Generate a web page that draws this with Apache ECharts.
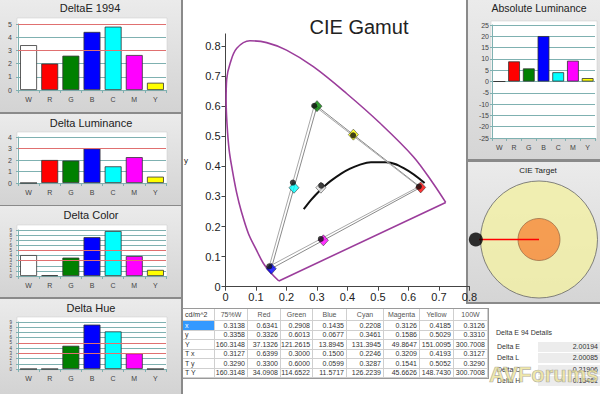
<!DOCTYPE html>
<html><head><meta charset="utf-8">
<script src="https://cdn.jsdelivr.net/npm/echarts/dist/echarts.min.js"></script>
<style>
html,body{margin:0;padding:0;background:#fff;width:600px;height:394px;overflow:hidden;}
#c{position:absolute;left:0;top:0;width:600px;height:394px;}
#ov{position:absolute;left:0;top:0;width:600px;height:394px;overflow:hidden;font-family:"Liberation Sans",Arial,sans-serif;font-size:7px;color:#333;}
.cell{position:absolute;box-sizing:border-box;border-right:1px solid #cfcfcf;border-bottom:1px solid #cfcfcf;white-space:nowrap;overflow:hidden;background:#fff;}
.num{text-align:right;padding-right:2px;}
.hdr{text-align:center;color:#555;}
.lab{text-align:left;padding-left:2px;}
.sel{background:#3399ff;color:#fff;}
.dt{position:absolute;white-space:nowrap;}
.dv{position:absolute;background:#ececec;white-space:nowrap;box-sizing:border-box;}
#wm{position:absolute;left:489px;top:362px;font-family:"Liberation Sans",Arial,sans-serif;font-weight:bold;font-size:22px;color:rgba(236,226,150,0.8);-webkit-text-stroke:0.7px rgba(150,150,150,0.7);letter-spacing:0px;white-space:nowrap;}
</style></head>
<body>
<div id="c"></div>
<div id="ov"></div>
<script>
// ---------------- data ----------------
const categories = ['W','R','G','B','C','M','Y'];
const barColors = ['#ffffff','#ff0000','#008000','#0000ff','#00ffff','#ff00ff','#ffff00'];
const deltaE1994 = [3.4, 2.0, 2.6, 4.4, 4.8, 2.65, 0.55];
const deltaLuminance = [0, 2.0, 1.95, 3.0, 1.45, 2.25, 0.55];
const deltaColor = [4.1, 0.15, 3.6, 7.6, 8.8, 3.9, 1.2];
const deltaHue = [0, 0, 4.45, 8.5, 7.2, 3.0, 0];
const absoluteLuminance = [0, 8.9, 5.8, 20.1, 4.1, 9.2, 1.5];
const thresholdsE = [3, 5];
const thresholdsLum = [3];
const thresholdsColor = [3, 5];
const thresholdsHue = [3, 5];

const tableColumns = ['75%W','Red','Green','Blue','Cyan','Magenta','Yellow','100W'];
const rowLabels = ['x','y','Y','T x','T y','T Y'];
const rowX  = ['0.3138','0.6341','0.2908','0.1435','0.2208','0.3126','0.4185','0.3126'];
const rowY  = ['0.3358','0.3326','0.6013','0.0677','0.3461','0.1586','0.5029','0.3310'];
const rowYY = ['160.3148','37.1326','121.2615','13.8945','131.3945','49.8647','151.0095','300.7008'];
const rowTx = ['0.3127','0.6399','0.3000','0.1500','0.2246','0.3209','0.4193','0.3127'];
const rowTy = ['0.3290','0.3300','0.6000','0.0599','0.3287','0.1541','0.5052','0.3290'];
const rowTY = ['160.3148','34.0908','114.6522','11.5717','126.2239','45.6626','148.7430','300.7008'];

const locusX = [0.175,0.150,0.124,0.100,0.075,0.052,0.037,0.022,0.012,0.005,0.002,0.004,0.015,0.037,0.080,0.135,0.200,0.288,0.397,0.507,0.616,0.681,0.722];
const locusY = [0.019,0.045,0.078,0.125,0.177,0.250,0.310,0.390,0.454,0.540,0.620,0.690,0.742,0.792,0.817,0.811,0.786,0.731,0.642,0.543,0.432,0.343,0.280];
const planckX = [0.2565,0.2637,0.2807,0.2952,0.3064,0.3221,0.3451,0.3805,0.4053,0.4369,0.4770,0.5267,0.5857,0.6528];
const planckY = [0.2577,0.2673,0.2883,0.3048,0.3166,0.3318,0.3516,0.3768,0.3907,0.4041,0.4137,0.4133,0.3931,0.3444];

const targetOffset = [-1.08, 0];
const detailLabels = ['Delta E','Delta L','Delta C','Delta H'];
const detailValues = ['2.00194','2.00085','0.21906','0.15461'];

// ---------------- chart ----------------
const TEAL = '#7fb1b1';
const FONT = '"Liberation Sans", Arial, sans-serif';
const chart = echarts.init(document.getElementById('c'), null, {renderer:'svg', width:600, height:394});

const gridDefs = [
  {left:18, top:24, width:148, height:66},
  {left:18, top:137, width:148, height:46},
  {left:18, top:230, width:148, height:46},
  {left:18, top:322, width:148, height:47},
  {left:492, top:25, width:103, height:113},
  {left:225.5, top:33.9, width:244, height:252.8},
  {left:480.5, top:181, width:117, height:117}
].map(g => Object.assign({containLabel:false, outerBoundsMode:'none', show:false}, g));

const barPanels = [
  {data:deltaE1994, min:0, max:5, interval:1, th:thresholdsE, lf:7},
  {data:deltaLuminance, min:0, max:4, interval:1, th:thresholdsLum, lf:7},
  {data:deltaColor, min:0, max:9, interval:1, th:thresholdsColor, lf:4.5},
  {data:deltaHue, min:0, max:9, interval:1, th:thresholdsHue, lf:4.5},
  {data:absoluteLuminance, min:-25, max:25, interval:5, th:[], lf:7}
];

const xAxes = [], yAxes = [], series = [];
barPanels.forEach((p, i) => {
  xAxes.push({
    type:'category', gridIndex:i, data:categories, boundaryGap:true,
    axisLine:{show:true, onZero:false, lineStyle:{color:TEAL, width:1}},
    axisTick:{show:true, length:3, alignWithLabel:false, lineStyle:{color:TEAL}},
    axisLabel:{fontSize:7, color:'#444', margin:6, interval:0, fontFamily:FONT},
    splitLine:{show:false}
  });
  yAxes.push({
    type:'value', gridIndex:i, min:p.min, max:p.max, interval:p.interval,
    axisLine:{show:true, lineStyle:{color:TEAL}},
    axisTick:{show:true, length:2, lineStyle:{color:TEAL}},
    axisLabel:{fontSize:p.lf, color:'#444', margin: i===4 ? 3 : 6, fontFamily:FONT, hideOverlap:false, showMinLabel:true, showMaxLabel:true},
    splitLine:{show:true, lineStyle:{color:TEAL, width:1}}
  });
  series.push({
    type:'bar', xAxisIndex:i, yAxisIndex:i, barWidth:'80%',
    data:p.data.map((v, k) => ({value:v, itemStyle:{color:barColors[k], borderColor:'#333', borderWidth:0.8}})),
    markLine: p.th.length ? {silent:true, symbol:'none', label:{show:false}, animation:false,
      lineStyle:{color:'#e07070', width:1, type:'solid'}, data:p.th.map(t => ({yAxis:t}))} : undefined
  });
});

// CIE gamut axes
xAxes.push({
  type:'value', gridIndex:5, min:0, max:0.8, interval:0.1,
  axisLine:{show:true, onZero:false, lineStyle:{color:'#444'}},
  axisTick:{show:true, length:4, lineStyle:{color:'#444'}},
  axisLabel:{fontSize:11, color:'#222', margin:5, fontFamily:FONT, formatter:v => v === 0 ? '0' : v.toFixed(1)},
  splitLine:{show:false}
});
yAxes.push({
  type:'value', gridIndex:5, min:0, max:0.84, interval:0.1,
  axisLine:{show:true, onZero:false, lineStyle:{color:'#444'}},
  axisTick:{show:true, length:4, lineStyle:{color:'#444'}},
  axisLabel:{fontSize:11, color:'#222', margin:5, fontFamily:FONT, showMaxLabel:false, formatter:v => v === 0 ? '0' : (Math.abs(v-0.84)<1e-6 ? '' : v.toFixed(1))},
  splitLine:{show:false}
});
// CIE target axes
xAxes.push({type:'value', gridIndex:6, min:-1, max:1, show:false});
yAxes.push({type:'value', gridIndex:6, min:-1, max:1, show:false});

const locus = locusX.map((x, i) => [x, locusY[i]]);
series.push({type:'line', xAxisIndex:5, yAxisIndex:5, data:locus, smooth:0.35, symbol:'none',
  lineStyle:{color:'#9b3d9b', width:1.6}, z:3});
series.push({type:'line', xAxisIndex:5, yAxisIndex:5, data:[locus[locus.length-1], locus[0]], symbol:'none',
  lineStyle:{color:'#9b3d9b', width:1.6}, z:3});
series.push({type:'line', xAxisIndex:5, yAxisIndex:5, data:planckX.map((x, i) => [x, planckY[i]]), smooth:0.4, symbol:'none',
  lineStyle:{color:'#111', width:2}, z:4});
const prim = [1, 2, 3, 1];
series.push({type:'line', xAxisIndex:5, yAxisIndex:5, data:prim.map(k => [+rowTx[k], +rowTy[k]]), symbol:'none',
  lineStyle:{color:'#8a8a8a', width:1}, z:4});
series.push({type:'line', xAxisIndex:5, yAxisIndex:5, data:prim.map(k => [+rowX[k], +rowY[k]]), symbol:'none',
  lineStyle:{color:'#a8a8a8', width:1}, z:4});
const markerCols = [0, 1, 2, 3, 4, 5, 6];
series.push({type:'scatter', xAxisIndex:5, yAxisIndex:5, symbol:'diamond', symbolSize:[10, 11], z:5,
  data:markerCols.map(k => ({value:[+rowTx[k], +rowTy[k]], itemStyle:{color: k === 0 ? '#e8e8e8' : barColors[k], borderColor:'#333', borderWidth:0.7}}))});
series.push({type:'scatter', xAxisIndex:5, yAxisIndex:5, symbol:'circle', symbolSize:6, z:6,
  data:markerCols.map(k => [+rowX[k], +rowY[k]]), itemStyle:{color:'#111'}});

// CIE target
series.push({type:'scatter', xAxisIndex:6, yAxisIndex:6, symbol:'circle', symbolSize:117, z:2, silent:true, clip:false,
  data:[[0, 0]], itemStyle:{color:'#f3f0a4', borderColor:'#666', borderWidth:1}});
series.push({type:'scatter', xAxisIndex:6, yAxisIndex:6, symbol:'circle', symbolSize:42, z:3, silent:true, clip:false,
  data:[[0, 0]], itemStyle:{color:'#f6883b', borderColor:'#8a5a3a', borderWidth:0.8}});
series.push({type:'line', xAxisIndex:6, yAxisIndex:6, data:[targetOffset, [0, 0]], symbol:'none', z:4, clip:false,
  lineStyle:{color:'#ff0000', width:1.5}});
series.push({type:'scatter', xAxisIndex:6, yAxisIndex:6, symbol:'circle', symbolSize:14, z:5, clip:false,
  data:[targetOffset], itemStyle:{color:'#000'}});

// panels & titles
const grad = (c1, c2) => new echarts.graphic.LinearGradient(0, 0, 0, 1, [{offset:0, color:c1}, {offset:1, color:c2}]);
const rects = [];
rects.push({type:'rect', shape:{x:0, y:0, width:183, height:394}, style:{fill:'#8a8a8a'}, z:-20});
[[0,0,181,112],[0,114,181,91],[0,206,181,91],[0,299,181,95]].forEach(r => {
  rects.push({type:'rect', shape:{x:r[0], y:r[1], width:r[2], height:r[3]}, style:{fill:grad('#ebebeb', '#d3d3d3')}, z:-19});
});
rects.push({type:'rect', shape:{x:466, y:0, width:134, height:304}, style:{fill:'#8a8a8a'}, z:-20});
[[468,0,132,159],[468,162,132,140]].forEach(r => {
  rects.push({type:'rect', shape:{x:r[0], y:r[1], width:r[2], height:r[3]}, style:{fill:grad('#ebebeb', '#d5d5d5')}, z:-19});
});
[[17,18,150,73],[17,132,150,52],[17,225,150,52],[17,317,150,53],[491,21,106,118]].forEach(r => {
  rects.push({type:'rect', shape:{x:r[0], y:r[1], width:r[2], height:r[3]}, style:{fill:'#ffffff', stroke:'#c8c8c8', lineWidth:0.5}, z:-18});
});
const texts = [
  ['DeltaE 1994', 90, 8, 11], ['Delta Luminance', 91, 123, 11], ['Delta Color', 91, 215, 11], ['Delta Hue', 91, 308, 11],
  ['Absolute Luminance', 539, 8, 10.5], ['CIE Target', 538, 170, 8], ['CIE Gamut', 359, 27, 20], ['y', 186, 160, 8]
].map(t => ({type:'text', x:t[1], y:t[2], z:10,
  style:{text:t[0], fontSize:t[3], fontFamily:FONT, fill:'#222', textAlign:'center', textVerticalAlign:'middle'}}));

chart.setOption({
  animation:false,
  backgroundColor:'#ffffff',
  grid:gridDefs,
  xAxis:xAxes,
  yAxis:yAxes,
  series:series,
  graphic:{elements:rects.concat(texts)}
});

// ---------------- table (HTML text) ----------------
const ov = document.getElementById('ov');
const colEdges = [183,215,248,281,313,347,384,420,454,488];
const rowEdges = [309,321,331,340,350,359,369,378];
const rowsData = [rowX, rowY, rowYY, rowTx, rowTy, rowTY];
const frame = document.createElement('div');
frame.style.cssText = 'position:absolute;left:182px;top:308px;width:307px;height:71px;box-sizing:border-box;border:1px solid #9a9a9a;border-left:2px solid #8a8a8a;';
ov.appendChild(frame);
function cell(text, c, r, cls) {
  const d = document.createElement('div');
  d.className = 'cell ' + cls;
  const x0 = colEdges[c], x1 = colEdges[c+1], y0 = rowEdges[r], y1 = rowEdges[r+1];
  d.style.left = x0 + 'px'; d.style.top = y0 + 'px';
  d.style.width = (x1 - x0) + 'px'; d.style.height = (y1 - y0) + 'px';
  d.style.lineHeight = (y1 - y0 - 1) + 'px';
  d.textContent = text;
  ov.appendChild(d);
}
cell('cd/m^2', 0, 0, 'lab');
tableColumns.forEach((h, c) => cell(h, c + 1, 0, 'hdr'));
rowLabels.forEach((l, r) => {
  cell(l, 0, r + 1, 'lab' + (r === 0 ? ' sel' : ''));
  rowsData[r].forEach((v, c) => cell(v, c + 1, r + 1, 'num'));
});

// details
const dh = document.createElement('div');
dh.className = 'dt'; dh.style.left = '496px'; dh.style.top = '329px'; dh.textContent = 'Delta E 94 Details';
ov.appendChild(dh);
const detTops = [341.5, 352.5, 364.5, 375.5];
detailLabels.forEach((l, i) => {
  const a = document.createElement('div');
  a.className = 'dt'; a.style.left = '497px'; a.style.top = (detTops[i] + 1.5) + 'px'; a.textContent = l;
  ov.appendChild(a);
  const b = document.createElement('div');
  b.className = 'dv'; b.style.left = '538px'; b.style.top = detTops[i] + 'px'; b.style.width = '62px'; b.style.height = '10px';
  b.style.lineHeight = '10px'; b.style.paddingRight = '2px'; b.style.textAlign = 'right'; b.textContent = detailValues[i];
  ov.appendChild(b);
});
const wm = document.createElement('div');
wm.id = 'wm'; wm.textContent = 'AVForums';
ov.appendChild(wm);
</script>
</body></html>
